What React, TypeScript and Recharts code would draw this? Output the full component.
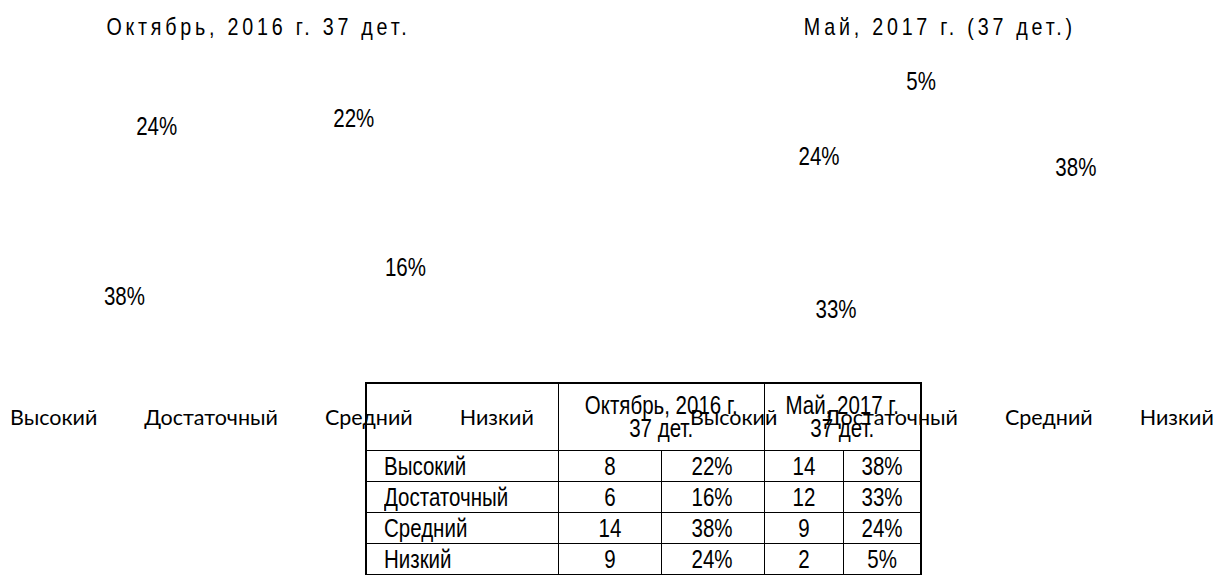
import React from 'react';
import { PieChart, Pie, Cell, Legend } from 'recharts';

const categories = ['Высокий', 'Достаточный', 'Средний', 'Низкий'];
const octCounts = [8, 6, 14, 9];
const octPercents = ['22%', '16%', '38%', '24%'];
const mayCounts = [14, 12, 9, 2];
const mayPercents = ['38%', '33%', '24%', '5%'];
const octTitle = 'Октябрь, 2016 г. 37 дет.';
const mayTitle = 'Май, 2017 г. (37 дет.)';
const octHeader = ['Октябрь, 2016 г.', '37 дет.'];
const mayHeader = ['Май, 2017 г.', '37 дет.'];

const NARROW = "'Liberation Sans', Arial, sans-serif";
const NARROW_SCALE = 0.82;
const LEGEND_FONT = "Lato, 'Open Sans', sans-serif";
const RAD = Math.PI / 180;

const octData = categories.map((name, i) => ({ name, value: octCounts[i] }));
const mayData = categories.map((name, i) => ({ name, value: mayCounts[i] }));

// label angular nudges (degrees) to mimic the original label placement
const octShift = [0, 4, -41, 0];
const mayShift = [0, -36, 0, 0];

function makeLabel(texts: string[], shifts: number[], factor: number) {
  return (props: any) => {
    const { cx, cy, midAngle, outerRadius, index } = props;
    const a = (midAngle + shifts[index]) * RAD;
    const r = outerRadius * factor;
    const x = cx + r * Math.cos(-a);
    const y = cy + r * Math.sin(-a);
    return (
      <text
        x={0}
        y={0}
        transform={`translate(${x} ${y}) scale(${NARROW_SCALE} 1)`}
        textAnchor="middle"
        dominantBaseline="central"
        fill="#000"
        style={{ fontFamily: NARROW, fontSize: 25 }}
      >
        {texts[index]}
      </text>
    );
  };
}

function LegendContent() {
  return (
    <div
      style={{
        display: 'flex',
        alignItems: 'center',
        height: 28,
        paddingLeft: 10,
        fontFamily: LEGEND_FONT,
        fontSize: 21.5,
        color: '#000',
        whiteSpace: 'nowrap',
      }}
    >
      {categories.map((t, i) => (
        <span key={i} style={{ marginRight: 47 }}>{t}</span>
      ))}
    </div>
  );
}

function PieBlock(props: {
  data: { name: string; value: number }[];
  texts: string[];
  shifts: number[];
  width: number;
  cx: number;
  cy: number;
  outer: number;
}) {
  const { data, texts, shifts, width, cx, cy, outer } = props;
  return (
    <PieChart width={width} height={440} margin={{ top: 0, right: 0, bottom: 0, left: 0 }}>
      <Pie
        data={data}
        dataKey="value"
        nameKey="name"
        cx={cx}
        cy={cy}
        outerRadius={outer}
        startAngle={90}
        endAngle={-270}
        stroke="none"
        labelLine={false}
        label={makeLabel(texts, shifts, 0.82)}
        isAnimationActive={false}
      >
        {data.map((d, i) => (
          <Cell key={i} fill="#ffffff" stroke="none" />
        ))}
      </Pie>
      <Legend
        verticalAlign="bottom"
        content={<LegendContent />}
        wrapperStyle={{ top: 403, bottom: 'auto', left: 0, width: '100%' }}
      />
    </PieChart>
  );
}

function Narrow(props: { children: React.ReactNode; origin?: string }) {
  return (
    <span
      style={{
        display: 'inline-block',
        transform: `scaleX(${NARROW_SCALE})`,
        transformOrigin: props.origin || 'center',
        whiteSpace: 'nowrap',
      }}
    >
      {props.children}
    </span>
  );
}

const cellBorder = '1.5px solid #000';

function Title(props: { text: string; center: number }) {
  return (
    <div
      style={{
        position: 'absolute',
        left: props.center - 300,
        width: 600,
        top: 12,
        textAlign: 'center',
        fontFamily: NARROW,
        fontSize: 24,
        lineHeight: '30px',
        color: '#000',
      }}
    >
      <span
        style={{
          display: 'inline-block',
          transform: `scaleX(${NARROW_SCALE})`,
          transformOrigin: 'center',
          letterSpacing: 4.6,
          whiteSpace: 'nowrap',
        }}
      >
        {props.text}
      </span>
    </div>
  );
}

export default function App() {
  const colW = [192, 103, 103, 79, 78];
  const tdBase: React.CSSProperties = {
    border: cellBorder,
    padding: 0,
    textAlign: 'center',
    height: 30,
    lineHeight: '23px',
    overflow: 'visible',
  };
  return (
    <div
      style={{
        position: 'absolute',
        left: 0,
        top: 0,
        width: 1213,
        height: 575,
        background: '#fff',
        overflow: 'hidden',
      }}
    >
      <div style={{ position: 'absolute', left: 0, top: 0 }}>
        <PieBlock data={octData} texts={octPercents} shifts={octShift} width={545} cx={260} cy={234} outer={182} />
      </div>
      <div style={{ position: 'absolute', left: 680, top: 0 }}>
        <PieBlock data={mayData} texts={mayPercents} shifts={mayShift} width={533} cx={265} cy={220} outer={172} />
      </div>

      <Title text={octTitle} center={258} />
      <Title text={mayTitle} center={940} />

      <table
        style={{
          position: 'absolute',
          left: 365,
          top: 382,
          borderCollapse: 'collapse',
          border: '2px solid #000',
          fontFamily: NARROW,
          fontSize: 25,
          color: '#000',
          tableLayout: 'fixed',
          background: 'transparent',
        }}
      >
        <colgroup>
          {colW.map((w, i) => (
            <col key={i} style={{ width: w }} />
          ))}
        </colgroup>
        <tbody>
          <tr>
            <td style={{ ...tdBase, height: 66 }}></td>
            <td colSpan={2} style={{ ...tdBase, height: 66 }}>
              <Narrow>
                {octHeader[0]}
                <br />
                {octHeader[1]}
              </Narrow>
            </td>
            <td colSpan={2} style={{ ...tdBase, height: 66 }}>
              <Narrow>
                {mayHeader[0]}
                <br />
                {mayHeader[1]}
              </Narrow>
            </td>
          </tr>
          {categories.map((c, i) => (
            <tr key={c}>
              <td style={{ ...tdBase, textAlign: 'left', paddingLeft: 17 }}>
                <Narrow origin="left">{c}</Narrow>
              </td>
              <td style={tdBase}><Narrow>{octCounts[i]}</Narrow></td>
              <td style={tdBase}><Narrow>{octPercents[i]}</Narrow></td>
              <td style={tdBase}><Narrow>{mayCounts[i]}</Narrow></td>
              <td style={tdBase}><Narrow>{mayPercents[i]}</Narrow></td>
            </tr>
          ))}
        </tbody>
      </table>
    </div>
  );
}
